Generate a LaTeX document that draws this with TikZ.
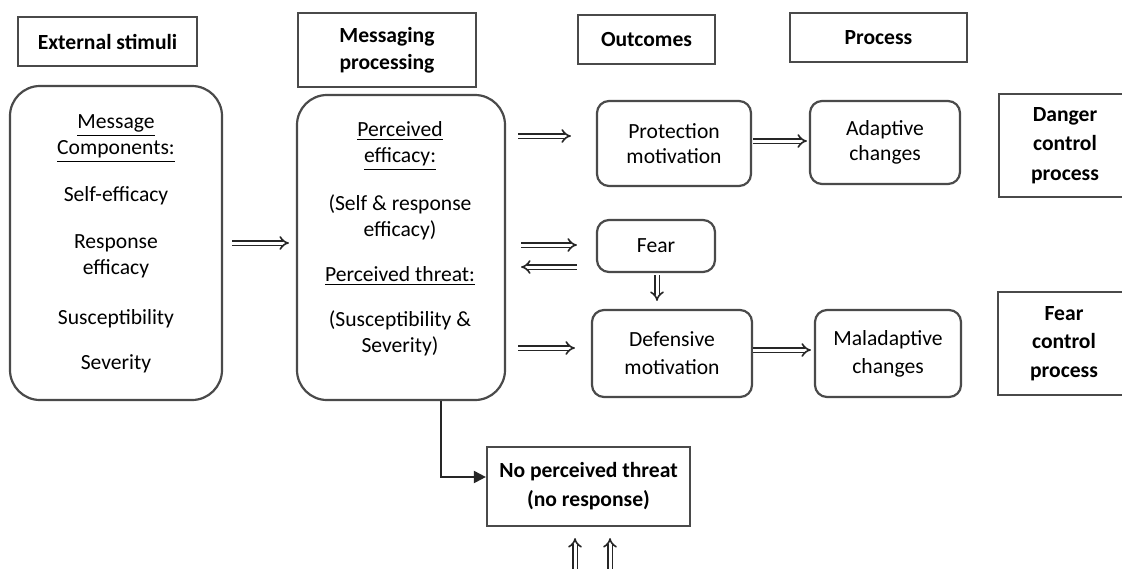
\documentclass[tikz,border=0pt]{standalone}
\usepackage{fontspec}
\setmainfont{Carlito}
\usetikzlibrary{arrows.meta,calc}
\definecolor{lc}{HTML}{4A4A4A}
\begin{document}
\begin{tikzpicture}[x=0.5pt,y=-0.5pt,
  box/.style={draw=lc, line width=1.1pt, align=center, inner sep=0pt},
  rbox/.style={box, rounded corners=15pt},
  sbox/.style={box, rounded corners=6pt},
  txt/.style={align=center, inner sep=0pt},
  bodyfont/.style={font=\fontsize{10.8}{12.5}\selectfont},
  headfont/.style={font=\fontsize{10.8}{13.5}\selectfont\bfseries},
  dbl/.style={draw=black!85, double=white, double distance=1.5pt, line width=0.8pt, -{Implies[scale=1.3]}},
  sgl/.style={draw=black!85, line width=1pt, -{Triangle[length=6pt,width=6pt]}}]
\useasboundingbox[fill=white] (0,0) rectangle (1122,568);

% header boxes
\node[box, headfont, minimum width=89.5pt, minimum height=24.5pt] (ext) at (107.5,41.5) {External stimuli};
\node[box, headfont, minimum width=89pt, minimum height=37pt] (msg) at (387,50) {Messaging\\processing};
\node[box, headfont, minimum width=68.5pt, minimum height=24.5pt] (out) at (646.5,39.5) {Outcomes};
\node[box, headfont, minimum width=88.5pt, minimum height=24.5pt] (proc) at (878.5,37.5) {Process};

% big rounded boxes
\node[rbox, minimum width=106pt, minimum height=157pt] (left) at (116,243) {};
\node[txt, font=\fontsize{10.8}{13}\selectfont] (lefttxt) at (116,244)
  {\underline{Message}\\\underline{Components:}\\[10.5pt]Self-efficacy\\[10.5pt]Response\\efficacy\\[12pt]Susceptibility\\[9.5pt]Severity};
\node[rbox, minimum width=104pt, minimum height=152.5pt] (mid) at (401,247.5) {};
\node[txt, font=\fontsize{10.8}{13}\selectfont] (midtxt) at (400,239)
  {\underline{Perceived}\\\underline{efficacy:}\\[11pt](Self \& response\\efficacy)\\[9.5pt]\underline{Perceived threat:}\\[9.5pt](Susceptibility \&\\Severity)};

% outcome boxes
\node[sbox, bodyfont, minimum width=77pt, minimum height=42.5pt] (prot) at (674,143.5) {Protection\\motivation};
\node[sbox, bodyfont, minimum width=75pt, minimum height=41.5pt] (adapt) at (885,142.5) {Adaptive\\changes};
\node[sbox, bodyfont, minimum width=59pt, minimum height=26pt] (fear) at (656,246) {Fear};
\node[sbox, font=\fontsize{10.8}{14}\selectfont, minimum width=80pt, minimum height=43.5pt] (def) at (672,353.5) {Defensive\\motivation};
\node[sbox, font=\fontsize{10.8}{14}\selectfont, minimum width=73pt, minimum height=43.5pt] (mal) at (888,353.5) {Maladaptive\\changes};

% process boxes (cut by the right edge)
\node[box, font=\fontsize{10.8}{14.75}\selectfont\bfseries, minimum width=66pt, minimum height=51.5pt] (danger) at (1065,145.5) {Danger\\control\\process};
\node[box, font=\fontsize{10.8}{14.25}\selectfont\bfseries, minimum width=66pt, minimum height=51.5pt] (fcp) at (1064,343.5) {Fear\\control\\process};

% no perceived threat
\node[box, font=\fontsize{10.8}{14.5}\selectfont\bfseries, minimum width=101.5pt, minimum height=39.5pt] (nopt) at (588.5,486.5) {No perceived threat\\(no response)};

% bottom free ends
\coordinate (b1s) at (575,580);
\coordinate (b2s) at (610,580);
\coordinate (b1e) at ($(nopt.south)+(-13.5,11)$);
\coordinate (b2e) at ($(nopt.south)+(21.5,11)$);

% connectors
\draw[dbl] ($(left.east)+(9,0)$) -- ($(left.east -| mid.west)+(-7,0)$);
\draw[dbl] ($(mid.east |- prot.west)+(12,-7.5)$) -- ($(prot.west)+(-25,-7.5)$);
\draw[dbl] ($(mid.east |- fear.west)+(15,-1)$) -- ($(fear.west)+(-19,-1)$);
\draw[dbl] ($(fear.west)+(-19,21)$) -- ($(mid.east |- fear.west)+(15,21)$);
\draw[dbl] ($(fear.south)+(1,2)$) -- ($(fear.south |- def.north)+(1,-8)$);
\draw[dbl] ($(mid.east |- def.west)+(12,-5.5)$) -- ($(def.west)+(-16,-5.5)$);
\draw[dbl] ($(prot.east)+(1,-2.5)$) -- ($(prot.east -| adapt.west)+(-2,-2.5)$);
\draw[dbl] ($(def.east)+(0,-3.5)$) -- ($(def.east -| mal.west)+(-3,-3.5)$);
\draw[sgl] ($(mid.south)+(40,0)$) |- ($(nopt.west)+(0,-9.5)$);
\draw[dbl] (b1s) -- (b1e);
\draw[dbl] (b2s) -- (b2e);
\end{tikzpicture}
\end{document}
